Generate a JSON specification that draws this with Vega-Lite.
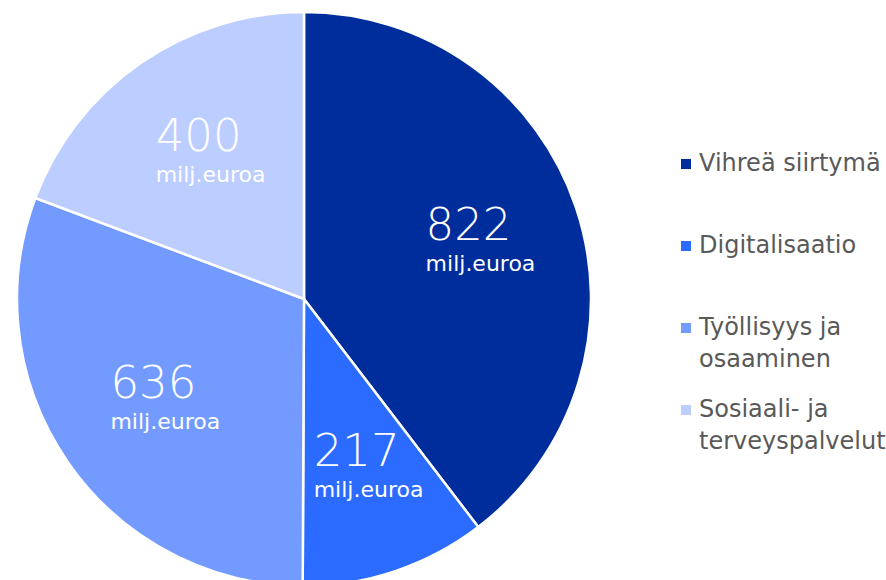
{
  "$schema": "https://vega.github.io/schema/vega-lite/v6.json",
  "width": 608,
  "height": 598,
  "padding": 0,
  "autosize": {"type": "pad"},
  "background": "white",
  "config": {"view": {"stroke": null}, "style": {"guide-label": {"lineHeight": 32}}},
  "data": {
    "values": [
      {"kategoria": "Vihreä siirtymä", "arvo": 822, "jarjestys": 1},
      {"kategoria": "Digitalisaatio", "arvo": 217, "jarjestys": 2},
      {"kategoria": "Työllisyys ja osaaminen", "arvo": 636, "jarjestys": 3},
      {"kategoria": "Sosiaali- ja terveyspalvelut", "arvo": 400, "jarjestys": 4}
    ]
  },
  "encoding": {
    "theta": {"field": "arvo", "type": "quantitative", "stack": true},
    "order": {"field": "jarjestys", "type": "quantitative"}
  },
  "layer": [
    {
      "mark": {"type": "arc", "outerRadius": 287, "stroke": "white", "strokeWidth": 2.5},
      "encoding": {
        "color": {
          "field": "kategoria",
          "type": "nominal",
          "scale": {
            "domain": ["Vihreä siirtymä", "Digitalisaatio", "Työllisyys ja osaaminen", "Sosiaali- ja terveyspalvelut"],
            "range": ["#002d9c", "#2c6bff", "#739bff", "#bccdff"]
          },
          "legend": {
            "title": null,
            "orient": "none",
            "legendX": 674,
            "legendY": 152,
            "symbolType": "square",
            "symbolSize": 100,
            "symbolStrokeWidth": 0,
            "labelFont": "DejaVu Sans",
            "labelFontSize": 24,
            "labelColor": "#595959",
            "labelLimit": 300,
            "labelOffset": 1,
            "rowPadding": 26,
            "labelExpr": "datum.label == 'Työllisyys ja osaaminen' ? ['Työllisyys ja', 'osaaminen'] : datum.label == 'Sosiaali- ja terveyspalvelut' ? ['Sosiaali- ja', 'terveyspalvelut'] : [datum.label, ' ']"
          }
        }
      }
    },
    {
      "mark": {"type": "text", "radius": 178, "align": "left", "baseline": "middle", "dx": -47, "dy": -16, "font": "DejaVu Sans", "fontWeight": 200, "fontSize": 45, "color": "white"},
      "encoding": {"text": {"field": "arvo", "type": "quantitative"}}
    },
    {
      "mark": {"type": "text", "radius": 178, "align": "left", "baseline": "middle", "dx": -47, "dy": 22, "font": "DejaVu Sans", "fontSize": 22, "color": "white", "text": "milj.euroa"},
      "encoding": {}
    }
  ]
}
